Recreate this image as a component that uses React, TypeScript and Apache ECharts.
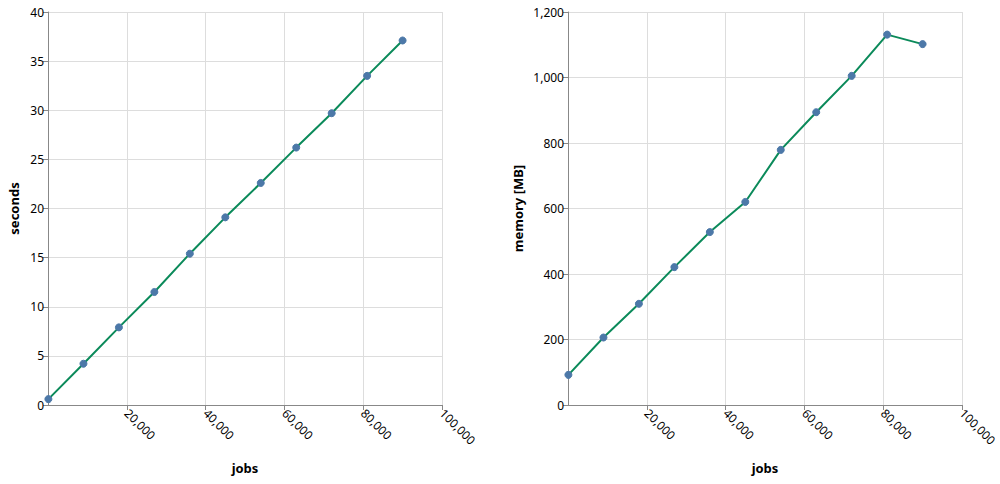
import React, { useEffect, useRef } from "react";
import * as echarts from "echarts";

const jobs = [100, 9000, 18000, 27000, 36000, 45000, 54000, 63000, 72000, 81000, 90000];
const seconds = [0.6, 4.2, 7.9, 11.5, 15.4, 19.1, 22.6, 26.2, 29.7, 33.5, 37.1];
const memoryMB = [92, 206, 309, 421, 528, 620, 779, 894, 1005, 1131, 1102];

const FONT = "Noto Sans";

function xAxisCfg(gridIndex: number) {
  return {
    type: "value",
    gridIndex,
    min: 0,
    max: 100000,
    interval: 20000,
    name: "jobs",
    nameLocation: "middle",
    nameGap: 56,
    nameTextStyle: { fontFamily: FONT, fontWeight: "bold", fontSize: 13, color: "#000" },
    axisLine: { show: true, lineStyle: { color: "#888", width: 1 } },
    axisTick: { show: true, length: 5, lineStyle: { color: "#888" } },
    axisLabel: {
      rotate: -45,
      showMinLabel: false,
      fontFamily: FONT,
      fontSize: 12,
      color: "#000",
      margin: 6,
      formatter: (v: number) => v.toLocaleString("en-US"),
    },
    splitLine: { show: true, lineStyle: { color: "#ddd", width: 1 } },
  };
}

function yAxisCfg(gridIndex: number, name: string, max: number, interval: number, gap: number) {
  return {
    type: "value",
    gridIndex,
    min: 0,
    max,
    interval,
    name,
    nameLocation: "middle",
    nameGap: gap,
    nameRotate: 90,
    nameTextStyle: { fontFamily: FONT, fontWeight: "bold", fontSize: 13, color: "#000" },
    axisLine: { show: true, lineStyle: { color: "#888", width: 1 } },
    axisTick: { show: true, length: 5, lineStyle: { color: "#888" } },
    axisLabel: {
      fontFamily: FONT,
      fontSize: 12,
      color: "#000",
      margin: 4,
      formatter: (v: number) => v.toLocaleString("en-US"),
    },
    splitLine: { show: true, lineStyle: { color: "#ddd", width: 1 } },
  };
}

function seriesCfg(idx: number, ys: number[]) {
  return {
    type: "line",
    xAxisIndex: idx,
    yAxisIndex: idx,
    data: jobs.map((x, i) => [x, ys[i]]),
    symbol: "circle",
    symbolSize: 7,
    lineStyle: { color: "#0b8a5a", width: 2 },
    itemStyle: { color: "#4c78a8", borderColor: "#4c78a8" },
    z: 3,
  };
}

export default function App() {
  const ref = useRef<HTMLDivElement>(null);
  useEffect(() => {
    if (!ref.current) return;
    const chart = echarts.init(ref.current, undefined, { renderer: "svg" });
    chart.setOption({
      animation: false,
      backgroundColor: "#fff",
      grid: [
        { left: 48, top: 12, width: 394, height: 393 },
        { left: 568, top: 12, width: 394, height: 393 },
      ],
      xAxis: [xAxisCfg(0), xAxisCfg(1)],
      yAxis: [
        yAxisCfg(0, "seconds", 40, 5, 28),
        yAxisCfg(1, "memory [MB]", 1200, 200, 44),
      ],
      series: [seriesCfg(0, seconds), seriesCfg(1, memoryMB)],
    });
    return () => chart.dispose();
  }, []);
  return (
    <div
      ref={ref}
      style={{ position: "fixed", left: 0, top: 0, width: 1000, height: 484 }}
    />
  );
}
